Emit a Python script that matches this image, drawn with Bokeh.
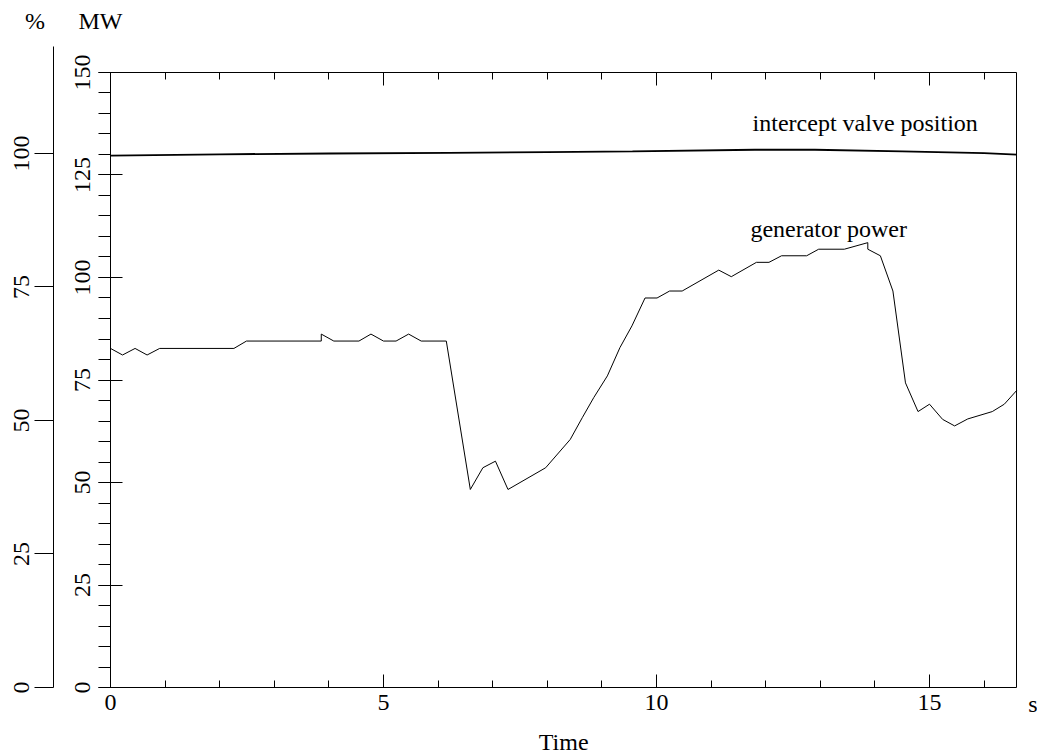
from bokeh.plotting import figure
from bokeh.models import Range1d, LinearAxis, FixedTicker, Label
from bokeh.embed import file_html
from bokeh.resources import INLINE

# ---- data ----
gen_t = [0, 0.22, 0.45, 0.67, 0.9, 2.26, 2.49, 3.86, 3.86, 4.09,
         4.55, 4.77, 5.0, 5.23, 5.46, 5.69, 6.15, 6.59, 6.82, 7.05,
         7.28, 7.97, 8.42, 8.64, 8.85, 9.1, 9.33, 9.55, 9.79, 10.01,
         10.24, 10.47, 11.14, 11.37, 11.83, 12.06, 12.29, 12.75, 12.97, 13.44,
         13.87, 13.87, 14.1, 14.33, 14.56, 14.79, 15.0, 15.24, 15.46, 15.7,
         16.15, 16.37, 16.6]
gen_mw = [82.7, 81.1, 82.7, 81.1, 82.7, 82.7, 84.5, 84.5, 86.2, 84.5,
          84.5, 86.2, 84.5, 84.5, 86.2, 84.5, 84.5, 48.3, 53.6, 55.2,
          48.3, 53.6, 60.5, 65.8, 70.7, 76.0, 82.9, 88.2, 95.0, 95.0,
          96.7, 96.7, 101.8, 100.2, 103.7, 103.7, 105.3, 105.3, 106.9, 106.9,
          108.5, 106.9, 105.3, 96.7, 74.3, 67.3, 69.1, 65.4, 63.8, 65.5,
          67.3, 69.1, 72.5]

valve_t = [0, 2, 4, 6.2, 8, 9.56, 11.8, 12.9, 14.5, 16.0, 16.6]
valve_pct = [99.6, 99.85, 100.0, 100.1, 100.25, 100.4, 100.7, 100.7, 100.4, 100.05, 99.8]

x_major = [0, 5, 10, 15]
x_minor = list(range(0, 17))
mw_major = [0, 25, 50, 75, 100, 125, 150]
mw_minor = list(range(0, 151, 5))
pct_major = [0, 25, 50, 75, 100]

# ---- layout constants (axis extents and view) ----
T_MAX = 16.6                         # end of the time axis
X_START, X_END = -2.015, 16.978      # whole canvas in time units
PCT_AXIS_X = -1.044                  # where the % axis stands
MW_MAX = 150
MW_BOT, MW_TOP = -16.34, 167.56      # whole canvas in MW
PCT_BOT, PCT_TOP = -12.55, 128.65    # whole canvas in %
PCT_AXIS_TOP = 120.04                # top of the % axis line

FONT = "Liberation Serif"
FS = "24px"

p = figure(width=1037, height=754,
           x_range=Range1d(X_START, X_END), y_range=Range1d(MW_BOT, MW_TOP),
           x_axis_type=None, y_axis_type=None,
           output_backend="svg", toolbar_location=None,
           min_border_left=0, min_border_right=0,
           min_border_top=0, min_border_bottom=0)
p.outline_line_color = None
p.background_fill_color = "white"
p.border_fill_color = "white"
p.extra_y_ranges = {"pct": Range1d(PCT_BOT, PCT_TOP)}


def style(ax):
    ax.axis_line_color = "black"
    ax.major_tick_line_color = "black"
    ax.minor_tick_line_color = "black"
    ax.major_label_text_color = "black"
    ax.major_label_text_font = FONT
    ax.major_label_text_font_size = FS


def frame_edge(ax):
    style(ax)
    ax.major_label_standoff = 0
    ax.major_label_text_font_size = "0px"


# time axis at the bottom of the box
xa = LinearAxis(fixed_location=0, bounds=(0, T_MAX),
                ticker=FixedTicker(ticks=x_major, minor_ticks=x_minor),
                major_tick_in=13, major_tick_out=0,
                minor_tick_in=7, minor_tick_out=0,
                major_label_standoff=7)
style(xa)
p.add_layout(xa, "below")

# top frame edge with inward ticks
ta = LinearAxis(fixed_location=MW_MAX, bounds=(0, T_MAX),
                ticker=FixedTicker(ticks=x_major, minor_ticks=x_minor),
                major_tick_in=13, major_tick_out=0,
                minor_tick_in=7, minor_tick_out=0,
                major_label_overrides={v: "" for v in x_major})
frame_edge(ta)
p.add_layout(ta, "above")

# right frame edge
ra = LinearAxis(fixed_location=T_MAX, bounds=(0, MW_MAX),
                ticker=FixedTicker(ticks=[], minor_ticks=[]),
                major_tick_in=0, major_tick_out=0,
                minor_tick_in=0, minor_tick_out=0)
frame_edge(ra)
p.add_layout(ra, "right")

# MW axis (left edge of the box)
ya = LinearAxis(fixed_location=0, bounds=(0, MW_MAX),
                ticker=FixedTicker(ticks=mw_major, minor_ticks=mw_minor),
                major_tick_in=12, major_tick_out=12,
                minor_tick_in=0, minor_tick_out=12,
                major_label_orientation="vertical",
                major_label_standoff=9)
style(ya)
p.add_layout(ya, "left")

# % axis
pa = LinearAxis(fixed_location=PCT_AXIS_X, y_range_name="pct", bounds=(0, PCT_AXIS_TOP),
                ticker=FixedTicker(ticks=pct_major, minor_ticks=[]),
                major_tick_in=0, major_tick_out=19,
                minor_tick_in=0, minor_tick_out=0,
                major_label_orientation="vertical",
                major_label_standoff=6)
style(pa)
p.add_layout(pa, "left")

# series
p.line(gen_t, gen_mw, line_color="black", line_width=1)
p.line(valve_t, valve_pct, y_range_name="pct", line_color="black", line_width=1.8)

# texts
def lab(text, x, y, xo=0, yo=0, align="left", baseline="middle", rng="default"):
    p.add_layout(Label(x=x, y=y, x_offset=xo, y_offset=yo, text=text,
                       text_font=FONT, text_font_size=FS, text_color="black",
                       text_align=align, text_baseline=baseline, y_range_name=rng))

lab("intercept valve position", 11.76, 137.8)
lab("generator power", 11.72, 111.9)
lab("s", T_MAX, 0, xo=16, yo=-3, align="center", baseline="top")
lab("Time", T_MAX / 2, 0, yo=-54.5, align="center")
lab("%", PCT_AXIS_X, PCT_AXIS_TOP, xo=-18.5, yo=25.5, align="center", rng="pct")
lab("MW", 0, MW_MAX, xo=-10, yo=51.5, align="center")

open("out.html", "w").write(file_html(p, INLINE))
